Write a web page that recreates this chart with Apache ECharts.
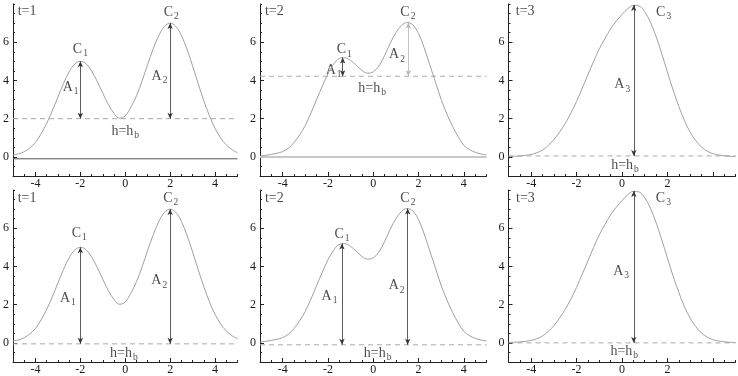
<!DOCTYPE html>
<html><head><meta charset="utf-8">
<script src="https://cdn.jsdelivr.net/npm/echarts@6/dist/echarts.min.js"></script>
<style>html,body{margin:0;padding:0;background:#fff}#c{width:738px;height:376px}</style>
</head><body><div id="c"></div>
<script>
// ---- data ----
const xGrid = [-5,-4.75,-4.5,-4.25,-4,-3.75,-3.5,-3.25,-3,-2.75,-2.5,-2.25,-2,-1.75,-1.5,-1.25,-1,-0.75,-0.5,-0.25,0,0.25,0.5,0.75,1,1.25,1.5,1.75,2,2.25,2.5,2.75,3,3.25,3.5,3.75,4,4.25,4.5,4.75,5];
const hT1 = [0.1,0.16,0.27,0.47,0.76,1.2,1.75,2.41,3.13,3.84,4.45,4.86,5.0,4.88,4.5,3.95,3.33,2.73,2.27,2.02,2.15,2.6,3.2,3.98,4.84,5.67,6.36,6.83,7.0,6.83,6.36,5.63,4.76,3.83,2.94,2.15,1.49,0.99,0.63,0.38,0.22];
const hT2 = [0.05,0.08,0.13,0.19,0.28,0.45,0.75,1.15,1.65,2.3,3.0,3.7,4.35,4.85,5.15,5.19,5.05,4.8,4.52,4.38,4.45,4.75,5.3,5.95,6.5,6.88,7.03,6.9,6.45,5.7,4.8,3.9,3.0,2.25,1.6,1.05,0.6,0.38,0.24,0.15,0.1];
const hT3 = [0.02,0.03,0.05,0.08,0.13,0.22,0.36,0.6,0.9,1.3,1.75,2.3,2.9,3.6,4.3,5.0,5.65,6.2,6.7,7.1,7.45,7.75,7.93,7.9,7.6,7.05,6.3,5.4,4.45,3.5,2.65,1.9,1.3,0.85,0.52,0.3,0.17,0.1,0.06,0.03,0.02];
const panelTimes = ['t=1','t=2','t=3','t=1','t=2','t=3'];
const hbLevels = [2, 4.22, 0.05, -0.05, -0.1, 0];
const baseLevels = [-0.1, 0, null, null, null, null];
const peakXTop = [[-2, 2], [-1.35, 1.55], [0.52]];
const peakXBottom = [[-2, 2], [-1.38, 1.52], [0.52]];
const peakH = [[5, 7], [5.2, 7.03], [7.95]];
const xTickValues = [-4, -2, 0, 2, 4];
const xLabelValues = [[-4, -2, 0, 2, 4], [-4, -2, 0, 2, 4], [-4, -2, 0, 2]];
const yTickValues = [0, 2, 4, 6];

// ---- layout ----
const gridLayout = [
  {left: 12, top: 4, width: 225.5, height: 172},
  {left: 260, top: 4, width: 226.5, height: 172},
  {left: 508.5, top: 4, width: 227, height: 172},
  {left: 12, top: 190, width: 225.5, height: 172},
  {left: 260, top: 190, width: 226.5, height: 172},
  {left: 508.5, top: 190, width: 227, height: 172}
];
const sub = (m, s) => '{m|' + m + '}{s|' + s + '}';
const tl = i => '{m|' + panelTimes[i] + '}';
const annotations = [
  [{x:-4.79,y:7.55,t:tl(0),a:'left'},{x:-2.0,y:5.6,t:sub('C','1'),a:'center'},{x:2.05,y:7.52,t:sub('C','2'),a:'center'},
   {x:-2.08,y:3.6,t:sub('A','1'),a:'right'},{x:1.88,y:4.16,t:sub('A','2'),a:'right'},{x:0,y:1.28,t:sub('h=h','b'),a:'center'}],
  [{x:-4.78,y:7.55,t:tl(1),a:'left'},{x:-1.28,y:5.56,t:sub('C','1'),a:'center'},{x:1.53,y:7.52,t:sub('C','2'),a:'center'},
   {x:-1.4,y:4.5,t:sub('A','1'),a:'right'},{x:1.4,y:5.3,t:sub('A','2'),a:'right'},{x:-0.05,y:3.55,t:sub('h=h','b'),a:'center'}],
  [{x:-4.68,y:7.55,t:tl(2),a:'left'},{x:1.5,y:7.52,t:sub('C','3'),a:'left'},
   {x:0.36,y:3.73,t:sub('A','3'),a:'right'},{x:0.13,y:-0.5,t:sub('h=h','b'),a:'center'}],
  [{x:-4.79,y:7.53,t:tl(3),a:'left'},{x:-2.05,y:5.7,t:sub('C','1'),a:'center'},{x:2.03,y:7.53,t:sub('C','2'),a:'center'},
   {x:-2.2,y:2.3,t:sub('A','1'),a:'right'},{x:1.87,y:3.2,t:sub('A','2'),a:'right'},{x:-0.06,y:-0.59,t:sub('h=h','b'),a:'center'}],
  [{x:-4.78,y:7.53,t:tl(4),a:'left'},{x:-1.38,y:5.65,t:sub('C','1'),a:'center'},{x:1.53,y:7.53,t:sub('C','2'),a:'center'},
   {x:-1.58,y:2.4,t:sub('A','1'),a:'right'},{x:1.38,y:2.95,t:sub('A','2'),a:'right'},{x:0.19,y:-0.59,t:sub('h=h','b'),a:'center'}],
  [{x:-4.67,y:7.53,t:tl(5),a:'left'},{x:1.49,y:7.53,t:sub('C','3'),a:'left'},
   {x:0.31,y:3.69,t:sub('A','3'),a:'right'},{x:0.1,y:-0.5,t:sub('h=h','b'),a:'center'}]
];
const arrowColors = [['#333','#333'],['#333','#b5b5b5'],['#333'],['#333','#333'],['#333','#333'],['#333']];

const FONT = '"Liberation Serif","DejaVu Serif",serif';
const TXT = '#1a1a1a';
const curves = [hT1, hT2, hT3];
const rich = {
  m: {fontFamily: FONT, fontSize: 14, color: TXT, lineHeight: 16, verticalAlign: 'top'},
  s: {fontFamily: FONT, fontSize: 9.5, color: TXT, lineHeight: 10, padding: [6.5, 0, 0, 1], verticalAlign: 'top'}
};

const grid = [], xAxis = [], yAxis = [], series = [];
for (let i = 0; i < 6; i++) {
  const col = i % 3;
  grid.push(Object.assign({containLabel: false}, gridLayout[i]));
  xAxis.push({
    type: 'value', gridIndex: i, min: -5, max: 5, position: 'bottom',
    axisLine: {show: true, onZero: false, lineStyle: {color: '#222', width: 1}},
    axisTick: {show: true, inside: true, length: 4, customValues: xTickValues, lineStyle: {color: '#222'}},
    axisLabel: {show: true, customValues: xLabelValues[col], margin: 2, fontFamily: FONT, fontSize: 12, color: TXT,
      formatter: v => String(v)},
    splitLine: {show: false}
  });
  xAxis.push({
    type: 'value', gridIndex: i, min: -5, max: 5, interval: 0.5, position: 'bottom',
    axisLine: {show: false, onZero: false},
    axisTick: {show: true, inside: true, length: 2, lineStyle: {color: '#222'}},
    axisLabel: {show: false}, splitLine: {show: false}
  });
  yAxis.push({
    type: 'value', gridIndex: i, min: -1, max: 8, position: 'left',
    axisLine: {show: true, onZero: false, lineStyle: {color: '#222', width: 1}},
    axisTick: {show: true, inside: true, length: 4, customValues: yTickValues, lineStyle: {color: '#222'}},
    axisLabel: {show: true, customValues: yTickValues, margin: 4, fontFamily: FONT, fontSize: 12, color: TXT},
    splitLine: {show: false}
  });
  yAxis.push({
    type: 'value', gridIndex: i, min: -1, max: 8, interval: 0.5, position: 'left',
    axisLine: {show: false, onZero: false},
    axisTick: {show: true, inside: true, length: 2, lineStyle: {color: '#222'}},
    axisLabel: {show: false}, splitLine: {show: false}
  });
  const xa = 2 * i, ya = 2 * i;
  const hb = hbLevels[i];
  const px = i < 3 ? peakXTop[col] : peakXBottom[col];
  if (baseLevels[i] !== null) {
    series.push({
      type: 'line', xAxisIndex: xa, yAxisIndex: ya, symbol: 'none', silent: true,
      data: [[-5, baseLevels[i]], [5, baseLevels[i]]],
      lineStyle: i === 0 ? {color: '#555', width: 1} : {color: '#c8c8c8', width: 2}
    });
  }
  series.push({
    type: 'line', xAxisIndex: xa, yAxisIndex: ya, symbol: 'none', silent: true,
    data: [[-5, hb], [5, hb]],
    lineStyle: {color: '#aaaaaa', width: 1, type: [5, 4]}
  });
  series.push({
    type: 'line', xAxisIndex: xa, yAxisIndex: ya, symbol: 'none', smooth: 0.35, silent: true,
    data: xGrid.map((x, k) => [x, curves[col][k]]),
    lineStyle: {color: '#a0a0a0', width: 1},
    markLine: {
      silent: true, symbol: ['arrow', 'arrow'], symbolSize: [4, 6], label: {show: false},
      lineStyle: {type: 'solid', width: 0.8, color: '#333'},
      emphasis: {disabled: true},
      data: px.map((x, k) => [
        {coord: [x, peakH[col][k]], lineStyle: {color: arrowColors[i][k], type: 'solid', width: 0.8}},
        {coord: [x, hb]}
      ])
    }
  });
  series.push({
    type: 'scatter', xAxisIndex: xa, yAxisIndex: ya, symbolSize: 0, silent: true,
    data: annotations[i].map(a => ({value: [a.x, a.y], name: a.t, label: {align: a.a}})),
    label: {show: true, position: [0, 0], verticalAlign: 'middle', formatter: p => p.name, rich: rich}
  });
}

const chart = echarts.init(document.getElementById('c'), null, {renderer: 'canvas'});
chart.setOption({animation: false, backgroundColor: '#fff', grid, xAxis, yAxis, series});
</script></body></html>
